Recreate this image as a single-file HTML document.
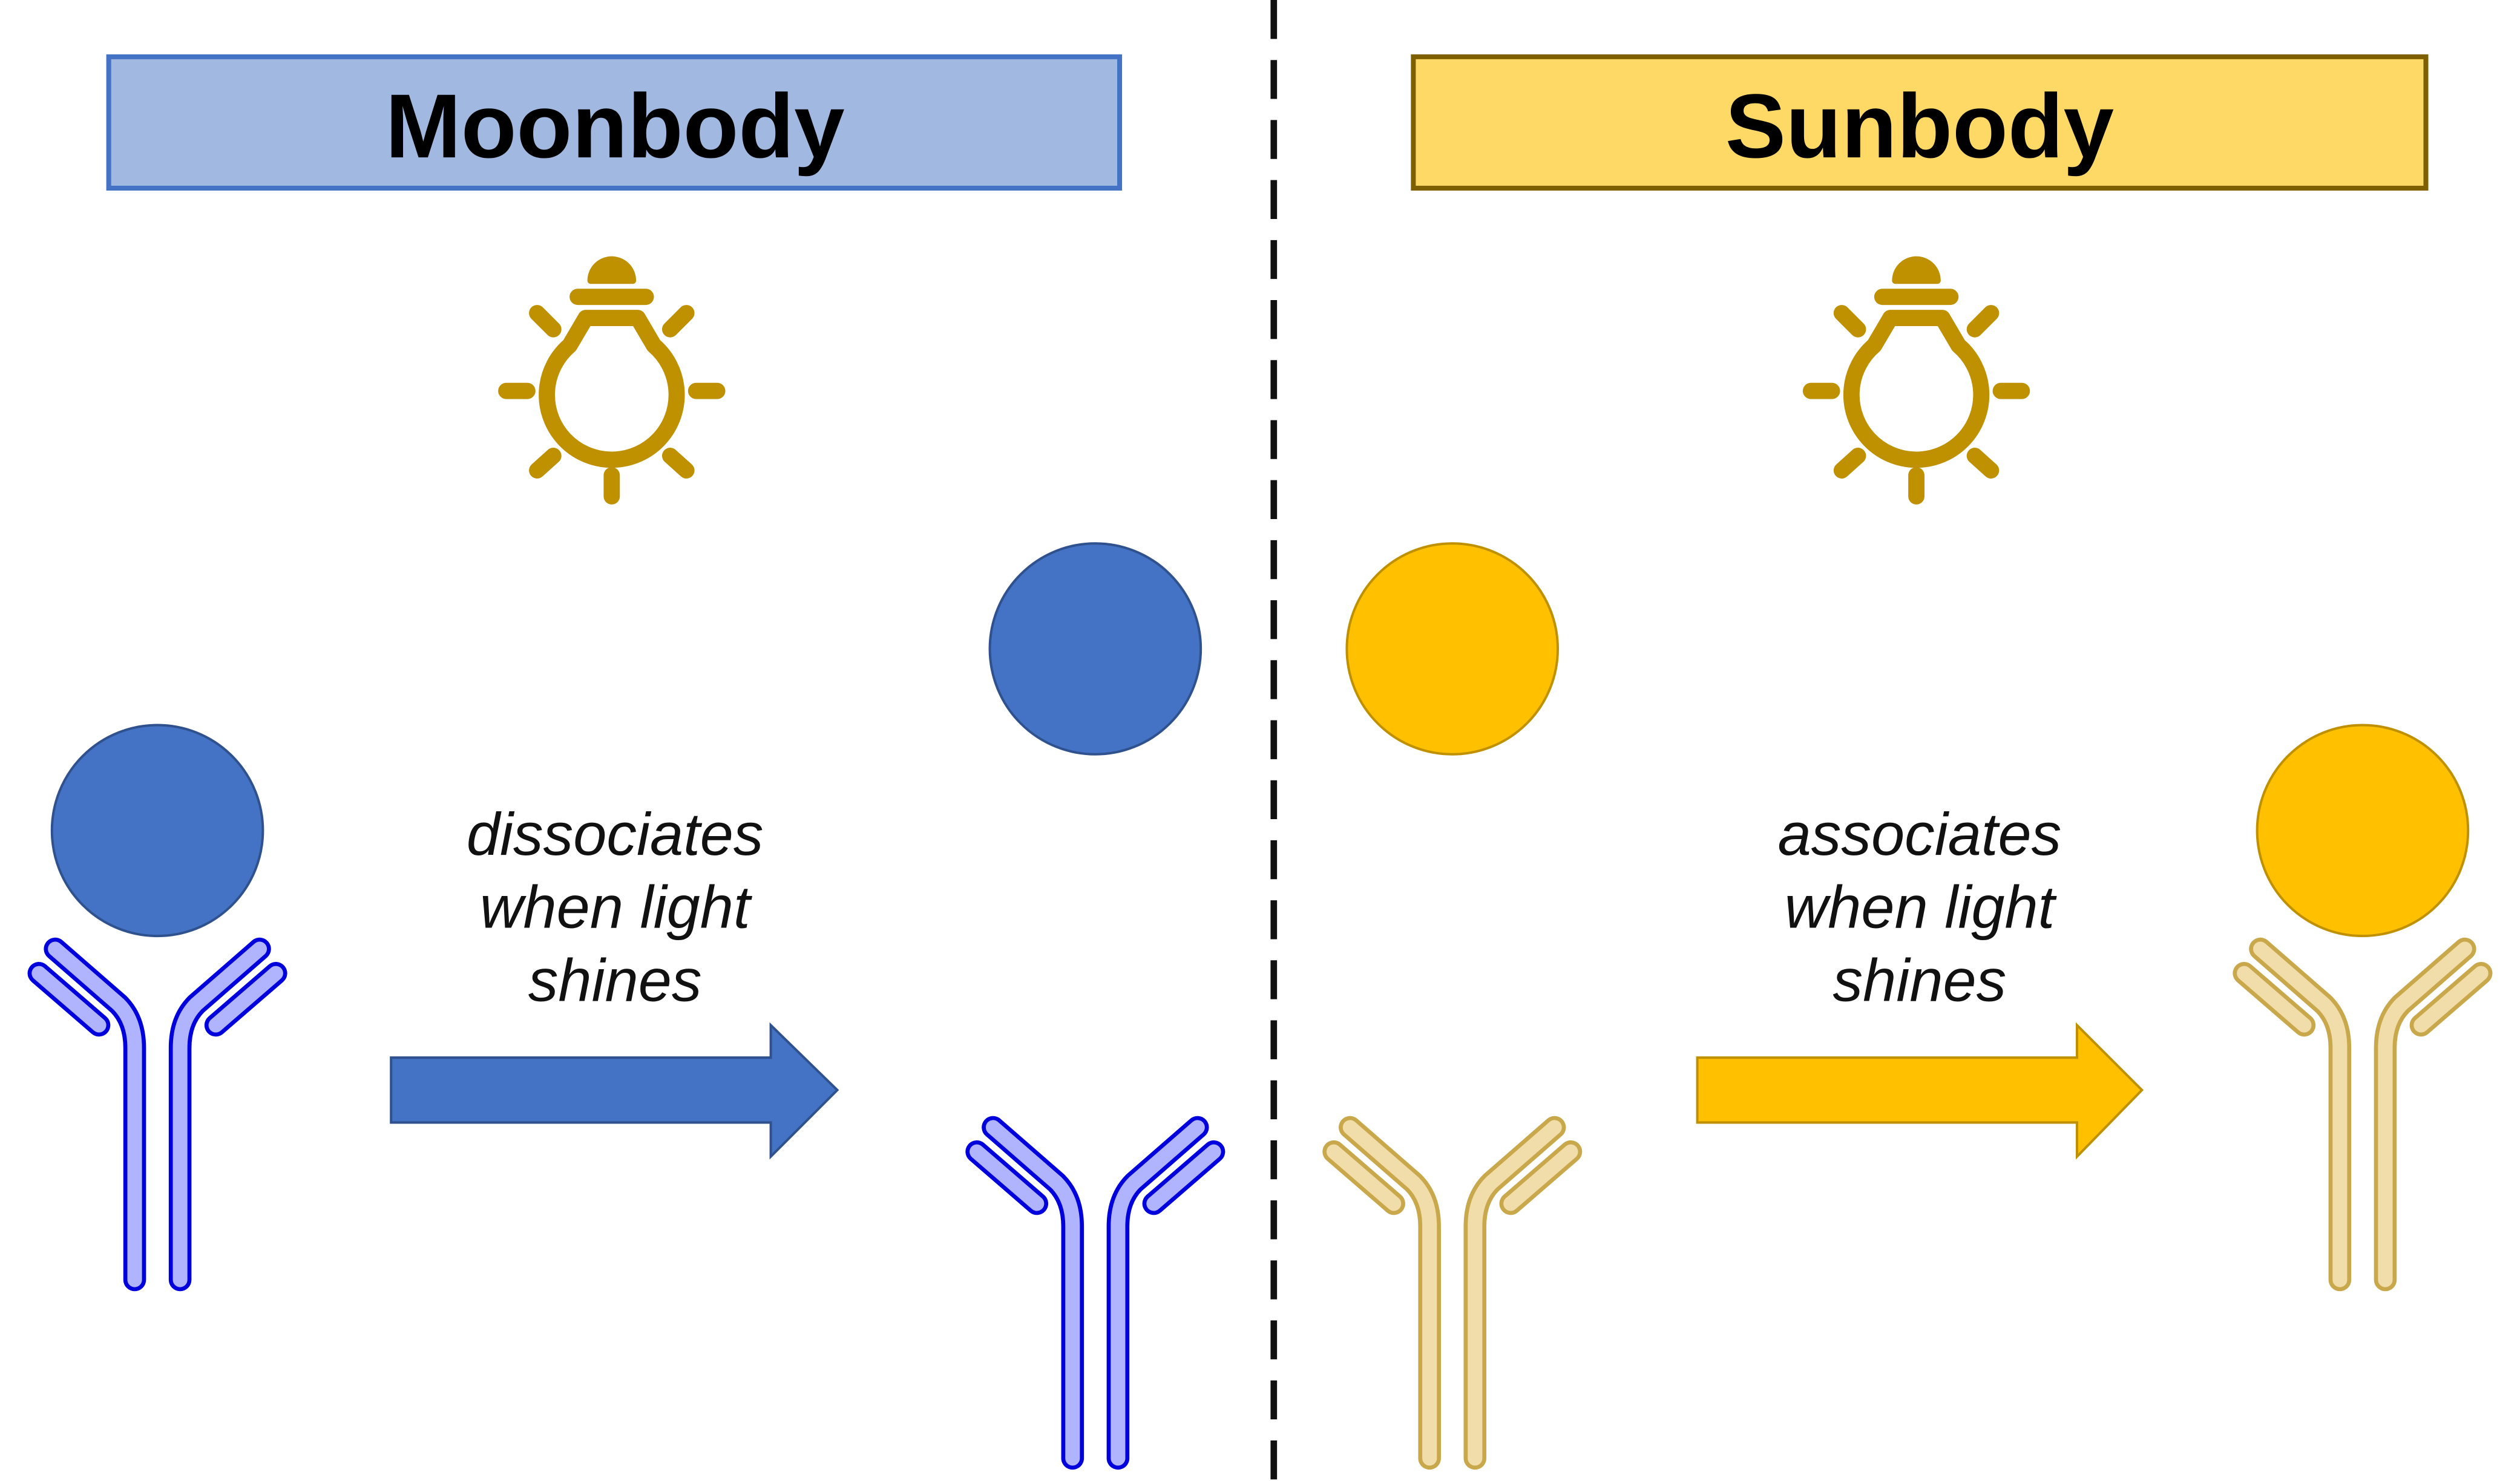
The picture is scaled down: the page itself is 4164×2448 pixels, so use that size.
<!DOCTYPE html>
<html><head><meta charset="utf-8"><style>html,body{margin:0;padding:0;background:#fff}svg{display:block}</style></head>
<body>
<svg width="4164" height="2448" viewBox="0 0 1553 913" xmlns="http://www.w3.org/2000/svg">
<defs>
<g id="bulb" fill="none" stroke="#bf9000" stroke-linecap="round" stroke-linejoin="round" stroke-width="10">
  <path d="M-26,-28 A40,40 0 1 0 26,-28 L16,-45 L-16,-45 Z"/>
  <path d="M-21,-58 L21,-58"/>
  <path d="M-13,-68 A13,13 0 0 1 13,-68 Z" fill="#bf9000" stroke-width="4"/>
  <path d="M-65,0 L-52,0 M52,0 L65,0 M0,52 L0,65 M-46,-48 L-36,-38 M46,-48 L36,-38 M-46,49 L-36,40 M46,49 L36,40"/>
</g>
<g id="chains" fill="none" stroke-linecap="round" stroke-linejoin="round">
  <path d="M-63,1 L-24,35 Q-14,45 -14,62 L-14,205"/>
  <path d="M63,1 L24,35 Q14,45 14,62 L14,205"/>
  <path d="M-73,16 L-36,48 M73,16 L36,48"/>
</g>
</defs>

<line x1="785" y1="0" x2="785" y2="913" stroke="#111" stroke-width="4" stroke-dasharray="24,13"/>

<rect x="67" y="35" width="623" height="81" fill="#a1b8e1" stroke="#4472c4" stroke-width="3"/>
<text x="379" y="97" text-anchor="middle" font-family="Liberation Sans, sans-serif" font-weight="bold" font-size="56">Moonbody</text>
<rect x="871" y="35" width="624" height="81" fill="#ffd966" stroke="#7f6000" stroke-width="3"/>
<text x="1183" y="97" text-anchor="middle" font-family="Liberation Sans, sans-serif" font-weight="bold" font-size="56">Sunbody</text>

<use href="#bulb" x="377" y="241"/>
<use href="#bulb" x="1181" y="241"/>

<circle cx="97" cy="512" r="65" fill="#4472c4" stroke="#2f528f" stroke-width="1.5"/>
<circle cx="675" cy="400" r="65" fill="#4472c4" stroke="#2f528f" stroke-width="1.5"/>
<circle cx="895" cy="400" r="65" fill="#ffc000" stroke="#bf9000" stroke-width="1.5"/>
<circle cx="1456" cy="512" r="65" fill="#ffc000" stroke="#bf9000" stroke-width="1.5"/>

<g transform="translate(97,584)">
  <use href="#chains" stroke="#0000dd" stroke-width="14"/>
  <use href="#chains" stroke="#b0b4ff" stroke-width="9"/>
</g>
<g transform="translate(675,694)">
  <use href="#chains" stroke="#0000dd" stroke-width="14"/>
  <use href="#chains" stroke="#b0b4ff" stroke-width="9"/>
</g>
<g transform="translate(895,694)">
  <use href="#chains" stroke="#c9a84c" stroke-width="14"/>
  <use href="#chains" stroke="#f1dda9" stroke-width="9"/>
</g>
<g transform="translate(1456,584)">
  <use href="#chains" stroke="#c9a84c" stroke-width="14"/>
  <use href="#chains" stroke="#f1dda9" stroke-width="9"/>
</g>

<path d="M241,652 L475,652 L475,632 L516,672 L475,713 L475,692 L241,692 Z" fill="#4472c4" stroke="#2f528f" stroke-width="1.5"/>
<path d="M1046,652 L1280,652 L1280,632 L1320,672 L1280,713 L1280,692 L1046,692 Z" fill="#ffc000" stroke="#bf9000" stroke-width="1.5"/>

<g font-family="Liberation Sans, sans-serif" font-style="italic" font-size="37" text-anchor="middle" fill="#111">
<text x="379" y="527">dissociates</text>
<text x="379" y="572">when light</text>
<text x="379" y="617">shines</text>
<text x="1183" y="527">associates</text>
<text x="1183" y="572">when light</text>
<text x="1183" y="617">shines</text>
</g>
</svg>
</body></html>
